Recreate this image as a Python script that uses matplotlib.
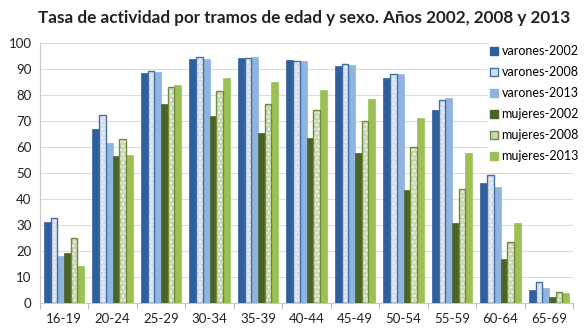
import matplotlib
matplotlib.use("Agg")
import matplotlib.pyplot as plt
import numpy as np
from matplotlib.patches import Patch

plt.rcParams['font.family'] = ['Lato', 'DejaVu Sans']

age_groups = ['16-19', '20-24', '25-29', '30-34', '35-39', '40-44',
              '45-49', '50-54', '55-59', '60-64', '65-69']

varones_2002 = [31.3, 66.9, 88.6, 93.8, 94.1, 93.5, 91.2, 86.4, 74.2, 46.0, 5.0]
varones_2008 = [32.6, 72.3, 89.3, 94.5, 94.1, 93.1, 92.0, 88.0, 78.0, 49.2, 8.2]
varones_2013 = [18.2, 61.7, 89.0, 93.7, 94.5, 93.0, 91.4, 88.0, 79.0, 44.5, 5.6]
mujeres_2002 = [19.3, 56.5, 76.5, 71.9, 65.5, 63.5, 57.8, 43.5, 30.9, 16.9, 2.4]
mujeres_2008 = [24.9, 63.1, 83.0, 81.5, 76.5, 74.2, 70.1, 60.1, 44.0, 23.6, 4.1]
mujeres_2013 = [14.2, 56.9, 83.8, 86.4, 85.1, 82.0, 78.3, 71.0, 57.6, 30.6, 3.7]

series = [
    ('varones-2002', varones_2002, '#2f5f9c', '#2f5f9c', None),
    ('varones-2008', varones_2008, '#d7dfea', '#3f6ea8', '....'),
    ('varones-2013', varones_2013, '#8fb4e0', '#8fb4e0', None),
    ('mujeres-2002', mujeres_2002, '#4b6326', '#4b6326', None),
    ('mujeres-2008', mujeres_2008, '#cbd9b0', '#6f8c3c', '....'),
    ('mujeres-2013', mujeres_2013, '#9cc055', '#9cc055', None),
]

fig = plt.figure(figsize=(5.85, 3.33), dpi=100)
ax = fig.add_axes([0.068, 0.09, 0.912, 0.781])

x = np.arange(len(age_groups))
w = 0.138
handles = []
for i, (name, vals, fc, ec, hatch) in enumerate(series):
    pos = x + (i - 2.5) * w
    if hatch:
        # pale dotted fill, then the darker outline on top
        ax.bar(pos, vals, w, color=fc, edgecolor='#f4f6f8', hatch=hatch,
               linewidth=0, zorder=3)
        ax.bar(pos, vals, w, color='none', edgecolor=ec, linewidth=1.0, zorder=4)
        handles.append(Patch(facecolor=fc, edgecolor=ec, linewidth=1.0, label=name))
    else:
        ax.bar(pos, vals, w, color=fc, edgecolor=ec, linewidth=0.5, zorder=3)
        handles.append(Patch(facecolor=fc, edgecolor=ec, label=name))

ax.set_xlim(-0.5, len(age_groups) - 0.5)
ax.set_ylim(0, 100)
ax.set_yticks(np.arange(0, 101, 10))
ax.yaxis.grid(True, color='#dcdcdc', linewidth=0.8, zorder=0)
ax.set_axisbelow(True)

ax.set_xticks(x)
ax.set_xticklabels(age_groups)
ax.set_xticks(np.arange(-0.5, len(age_groups), 1), minor=True)
ax.tick_params(axis='x', which='major', length=0, pad=7, labelsize=9.5, colors='#222222')
ax.tick_params(axis='x', which='minor', length=4, color='#b0b0b0')
ax.tick_params(axis='y', length=0, pad=6, labelsize=9.5, colors='#222222')

for s in ['top', 'right']:
    ax.spines[s].set_visible(False)
ax.spines['left'].set_color('#c8c8c8')
ax.spines['bottom'].set_color('#c8c8c8')

leg = ax.legend(handles=handles, loc='upper right', bbox_to_anchor=(1.02, 1.01),
                frameon=True, fontsize=9, handlelength=0.6, handleheight=0.6,
                handletextpad=0.3, labelspacing=0.72, borderaxespad=0.2,
                borderpad=0.2)
leg.get_frame().set_facecolor('white')
leg.get_frame().set_edgecolor('white')
leg.get_frame().set_alpha(1.0)
leg.set_zorder(2)

fig.text(0.52, 0.947, 'Tasa de actividad por tramos de edad y sexo. Años 2002, 2008 y 2013',
         ha='center', va='center', fontsize=12.3, fontweight='bold', color='#222222')

fig.savefig('out.png', dpi=100)
